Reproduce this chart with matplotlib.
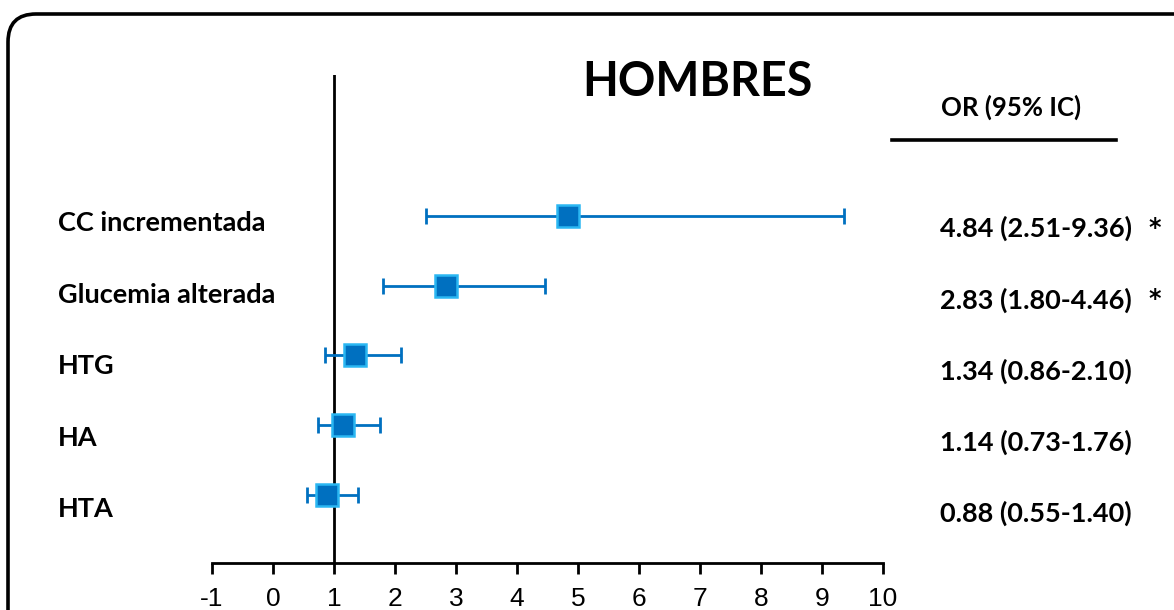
import matplotlib
matplotlib.use("Agg")
import matplotlib.pyplot as plt
from matplotlib.patches import FancyBboxPatch
from matplotlib.lines import Line2D

# ====== DATOS ======
variables = ["CC incrementada", "Glucemia alterada", "HTG", "HA", "HTA"]
odds_ratio = [4.84, 2.83, 1.34, 1.14, 0.88]
ic_inferior = [2.51, 1.80, 0.86, 0.73, 0.55]
ic_superior = [9.36, 4.46, 2.10, 1.76, 1.40]
significativo = [True, True, False, False, False]
ticks_x = list(range(-1, 11))

azul = "#0070C0"
celeste = "#2BB7F2"
fuente_texto = "Lato"
W, H = 1174, 610

fig = plt.figure(figsize=(W / 100, H / 100), dpi=100)

# marco redondeado (sale por la derecha y por abajo)
marco = FancyBboxPatch((8, -300), 1400, H - 14 + 300,
                       boxstyle="round,pad=0,rounding_size=28",
                       transform=None, fill=False,
                       edgecolor="black", linewidth=2.6)
fig.patches.append(marco)

ax = fig.add_axes([212 / W, 47 / H, 671 / W, 488 / H])
ax.set_xlim(-1, 10)
ax.set_ylim(-0.975, 6.02)

filas = list(range(len(variables)))[::-1]
err_izq = [o - l for o, l in zip(odds_ratio, ic_inferior)]
err_der = [h - o for o, h in zip(odds_ratio, ic_superior)]

ax.axvline(1, color="black", linewidth=2, zorder=1)
ax.errorbar(odds_ratio, filas, xerr=[err_izq, err_der], fmt="none",
            ecolor=azul, elinewidth=2, capsize=6, capthick=2, zorder=2)
ax.plot(odds_ratio, filas, "s", markersize=16, markerfacecolor=azul,
        markeredgecolor=celeste, markeredgewidth=1.8, zorder=3)

for s in ["left", "right", "top"]:
    ax.spines[s].set_visible(False)
ax.spines["bottom"].set_linewidth(2)
ax.set_yticks([])
ax.set_xticks(ticks_x)
ax.set_xticklabels([str(t) for t in ticks_x])
ax.tick_params(axis="x", direction="out", length=8, width=2, pad=9)
for t in ax.get_xticklabels():
    t.set_fontfamily("Liberation Sans")
    t.set_fontsize(19)

# etiquetas de variables (izquierda) y OR (IC 95%) a la derecha
for i, (nombre, o, l, h, sig) in enumerate(zip(variables, odds_ratio, ic_inferior, ic_superior, significativo)):
    y_izq = 1 - (231 + i * 71.5) / H
    y_der = 1 - (237 + i * 71.3) / H
    fig.text(58 / W, y_izq, nombre, fontfamily=fuente_texto, fontweight="bold",
             fontsize=19.5, ha="left", va="baseline")
    fig.text(1132 / W, y_der, f"{o:.2f} ({l:.2f}-{h:.2f})", fontfamily=fuente_texto,
             fontweight="bold", fontsize=19.5, ha="right", va="baseline")
    if sig:
        fig.text(1155 / W, 1 - (228 + i * 71.3) / H, "*", fontfamily="DejaVu Sans",
                 fontweight="bold", fontsize=17, ha="center", va="center")

fig.text(697 / W, 1 - 82 / H, "HOMBRES", fontfamily=fuente_texto, fontweight="bold",
         fontsize=33.5, ha="center", va="center")
fig.text(1011 / W, 1 - 107 / H, "OR (95% IC)", fontfamily=fuente_texto,
         fontweight="bold", fontsize=18.5, ha="center", va="center")
fig.add_artist(Line2D([892 / W, 1116 / W], [1 - 140 / H, 1 - 140 / H],
                      transform=fig.transFigure, color="black", linewidth=2.6))

fig.savefig("out.png", dpi=100)
